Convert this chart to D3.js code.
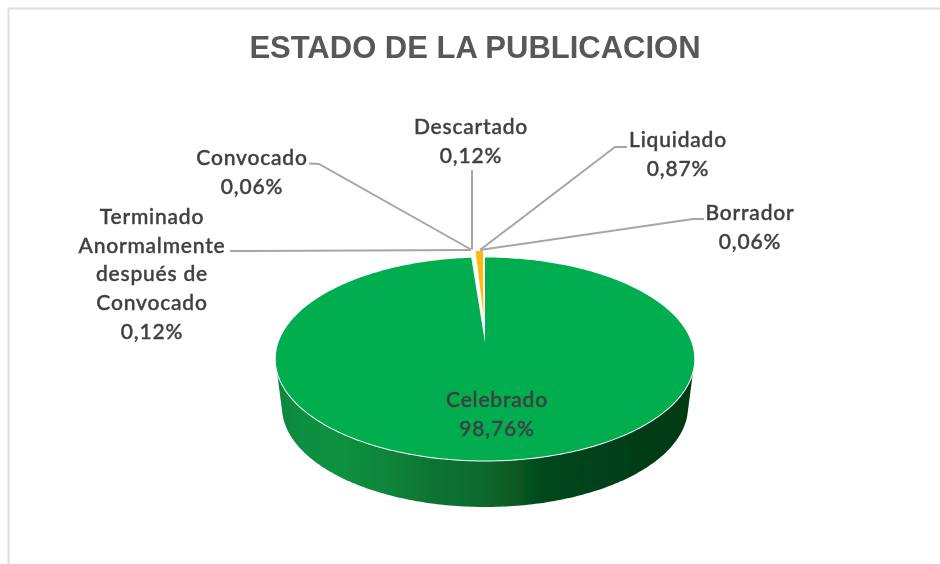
<!DOCTYPE html>
<html><head><meta charset="utf-8">
<script src="https://cdn.jsdelivr.net/npm/d3@7"></script>
<style>html,body{margin:0;padding:0;background:#fff;overflow:hidden}svg{display:block}</style>
</head><body><svg id="c" width="940" height="564"></svg>
<script>
const titleText = "ESTADO DE LA PUBLICACION";
const categories = ["Celebrado","Terminado Anormalmente después de Convocado","Convocado","Descartado","Liquidado","Borrador"];
const values = [98.76,0.12,0.06,0.12,0.87,0.06];
const valueLabels = ["98,76%","0,12%","0,06%","0,12%","0,87%","0,06%"];
const labelLines = [["Celebrado"],["Terminado","Anormalmente","después de","Convocado"],["Convocado"],["Descartado"],["Liquidado"],["Borrador"]];
const sliceFills = ["#00AD50","#ffffff","#ffffff","#ffffff","#FDBB0E","#ffffff"];

// layout
const labelCenterX = [497,152,252,471,678,750];
const labelTopBase = [407,224,165,134,147,220];
const lineGap = 28.7;
const leaders = [null,
  [[230,251],[471,250]],
  [[309,163.5],[319,164],[471,249.5]],
  [[472,170],[472,249.5]],
  [[627,147],[615,147],[480,250]],
  [[704,219],[693,219],[480,250]]];

const svg = d3.select("#c");
const cx = 485, apexY = 342.5, persp = 0.1626, k = 98.8, R = 206.5;
const project = (a,t=1,dx=0,dy=0)=>{
  const u=t*Math.sin(a), v=t*Math.cos(a), w=1+persp*v;
  return [cx+dx+R*u/w, apexY+dy-k*v/w];
};
const pie = d3.pie().sort(null).value(d=>d)(values);
const defs = svg.append("defs");
defs.append("filter").attr("id","soft").append("feGaussianBlur").attr("stdDeviation",0.45);
const root = svg.append("g").attr("filter","url(#soft)");

// frame
root.append("path").attr("d","M8.5,564V8.5H940").attr("fill","none").attr("stroke","#dedede").attr("stroke-width",2);

// side wall
const full = d3.range(0,2*Math.PI,Math.PI/180);
const topPts = full.map(a=>project(a));
const botPts = full.map(a=>[cx+203*Math.sin(a),407-100*Math.cos(a)]);
const hull = d3.polygonHull(topPts.concat(botPts));
const wallX = d3.scaleLinear().domain([276,694]).range([0,1]);
const wallStops = [[278,"#0c853c"],[300,"#0b8e41"],[335,"#0a9240"],[385,"#0a863a"],[430,"#0a7433"],[480,"#0a6a2e"],[520,"#07581f"],[545,"#03471c"],[600,"#03411a"],[692,"#033a17"]];
defs.append("linearGradient").attr("id","wall").attr("gradientUnits","userSpaceOnUse")
  .attr("x1",276).attr("x2",694).attr("y1",0).attr("y2",0)
  .selectAll("stop").data(wallStops).join("stop")
  .attr("offset",d=>wallX(d[0])).attr("stop-color",d=>d[1]);
const line = d3.line();
root.append("path").attr("d",line(hull)+"Z").attr("fill","url(#wall)");
// white underlay so the gap in the top face stays clear of the wall
root.append("path").attr("d",line(topPts)+"Z").attr("fill","#ffffff").attr("stroke","#ffffff").attr("stroke-width",2);

// top faces
const slicePath=(d,t,dx,dy)=>{
  const n=Math.max(2,Math.ceil((d.endAngle-d.startAngle)/(Math.PI/180)));
  const pts=d3.range(n+1).map(i=>project(d.startAngle+(d.endAngle-d.startAngle)*i/n,t,dx,dy));
  return line([[cx+dx,apexY+dy],...pts])+"Z";
};
root.selectAll("path.slice").data(pie).join("path").attr("class","slice")
  .attr("d",(d,i)=>i===0?slicePath(d,1,0,0):slicePath(d,0.73,-1.5,-27))
  .attr("fill",(d,i)=>sliceFills[i]);

// leaders
root.selectAll("path.leader").data(leaders.filter(Boolean)).join("path").attr("class","leader")
  .attr("d",d=>line(d)).attr("fill","none").attr("stroke","#a6a6a6").attr("stroke-width",2);

// title
root.append("text").text(titleText).attr("x",475).attr("y",57.5).attr("text-anchor","middle")
  .attr("font-family","'Liberation Sans',Arial,sans-serif").attr("font-weight","bold").attr("font-size",31).attr("fill","#595959");

// labels
categories.forEach((c,i)=>{
  const lines=[...labelLines[i],valueLabels[i]];
  const t=root.append("text").attr("text-anchor","middle").attr("font-family","Lato,'Open Sans',sans-serif")
    .attr("font-size",21).attr("font-weight",500).attr("letter-spacing",0.8)
    .attr("fill","#404040").attr("stroke","#404040").attr("stroke-width",0.4);
  lines.forEach((s,j)=>t.append("tspan").attr("x",labelCenterX[i]).attr("y",labelTopBase[i]+j*lineGap).text(s));
});
</script></body></html>
